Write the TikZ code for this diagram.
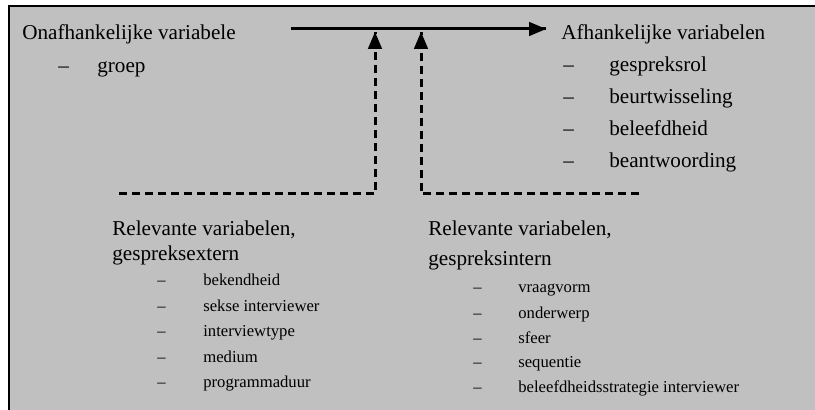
\documentclass[tikz,border=0pt]{standalone}
\usepackage{fontspec}
\setmainfont{Liberation Serif}
\usetikzlibrary{arrows}
\usetikzlibrary{decorations.markings}
\usetikzlibrary{positioning}
\definecolor{bg}{HTML}{C0C0C0}
\tikzset{->/.style = {decoration={markings,
                                  mark=at position 1 with {\arrow[scale=0.85]{triangle 45}}},
                      postaction={decorate}}}
\tikzset{lbl/.style = {anchor = base west, inner sep = 0, font = \fontsize{12.7}{15}\selectfont}}
\tikzset{sml/.style = {lbl, font = \fontsize{10}{12}\selectfont}}
\tikzset{link/.style = {line width = 1.8pt, dash pattern = on 4.9pt off 2.9pt}}
\newcommand{\dashitem}[2][27.6pt]{\makebox[#1][l]{--}#2}

\begin{document}
\begin{tikzpicture}[x = 0.6pt, y = -0.6pt]
    \useasboundingbox (0, 0) rectangle (815, 410);
    \fill [bg] (9, 6) rectangle (815, 410);
    \draw [line width = 0.9pt] (9, 410) -- (9, 6) -- (815, 6);
    % independent and dependent variables
    \node [lbl] (onafh) at (22, 39.5) {Onafhankelijke variabele};
    \node [lbl] (groep) at (58, 72.5) {\dashitem[23.4pt]{groep}};
    \node [lbl] (afh) at (561, 39.5) {Afhankelijke variabelen};
    \node [lbl] (rol) at (563, 72) {\dashitem{gespreksrol}};
    \node [lbl] (beurt) at (563, 104) {\dashitem{beurtwisseling}};
    \node [lbl] (beleefd) at (563, 136) {\dashitem{beleefdheid}};
    \node [lbl] (antw) at (563, 168) {\dashitem{beantwoording}};
    % relevant variables
    \node [lbl] (extern) at (112, 235.5) {Relevante variabelen,};
    \node [lbl] (externb) at (112, 260.5) {gespreksextern};
    \node [sml] (bekend) at (157, 285.5) {\dashitem{bekendheid}};
    \node [sml] (sekse) at (157, 311.5) {\dashitem{sekse interviewer}};
    \node [sml] (type) at (157, 336.5) {\dashitem{interviewtype}};
    \node [sml] (medium) at (157, 362.5) {\dashitem{medium}};
    \node [sml] (duur) at (157, 387.5) {\dashitem{programmaduur}};
    \node [lbl] (intern) at (428, 235.5) {Relevante variabelen,};
    \node [lbl] (internb) at (428, 265.5) {gespreksintern};
    \node [sml] (vorm) at (473, 292.5) {\dashitem[27pt]{vraagvorm}};
    \node [sml] (onderwerp) at (473, 318.5) {\dashitem[27pt]{onderwerp}};
    \node [sml] (sfeer) at (473, 343.5) {\dashitem[27pt]{sfeer}};
    \node [sml] (seq) at (473, 367.5) {\dashitem[27pt]{sequentie}};
    \node [sml] (strat) at (473, 392.5) {\dashitem[27pt]{beleefdheidsstrategie interviewer}};
    % connectors
    \coordinate (src) at (291, 29);
    \coordinate (dst) at (546, 29);
    \coordinate (ext) at (119, 194);
    \coordinate (extup) at (375, 32);
    \coordinate (int) at (639, 194);
    \coordinate (intup) at (421, 32);
    \draw [->, line width = 1.8pt] (src) -- (dst);
    \draw [->, link] (ext) -| (extup);
    \draw [->, link] (int) -| (intup);
  \end{tikzpicture}
\end{document}
